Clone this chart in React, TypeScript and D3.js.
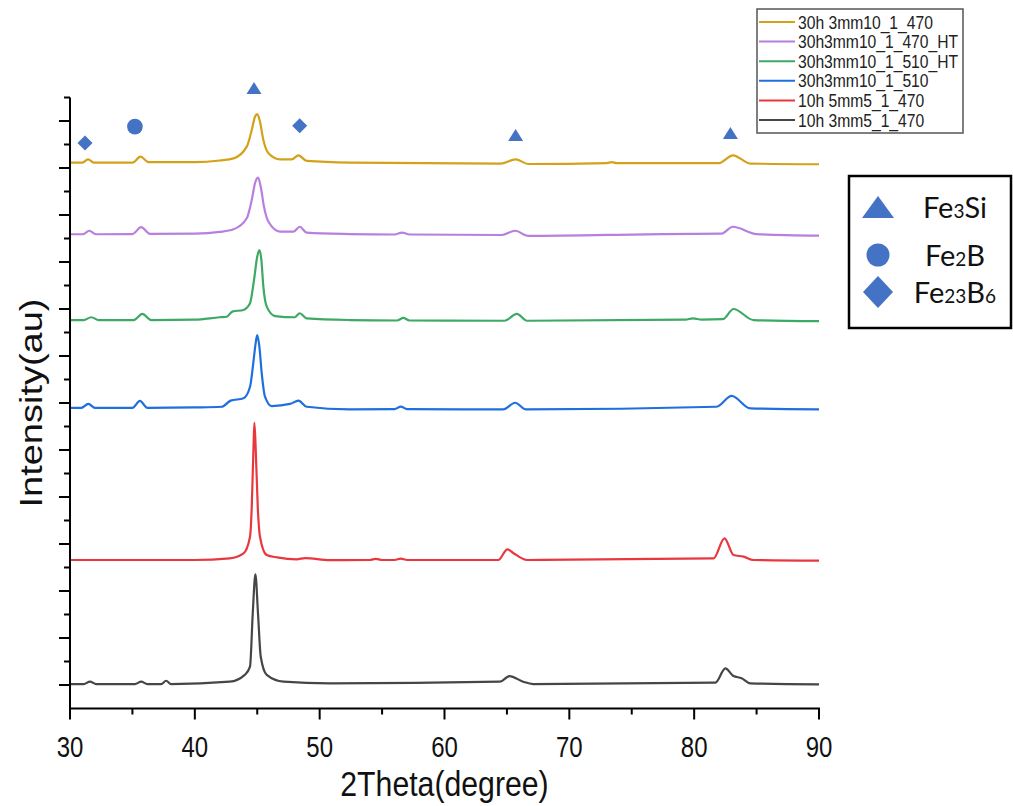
import { useEffect, useRef } from 'react';
import * as d3 from 'd3';

// sample names and colours, top of the stack first
const seriesNames = [
  '30h 3mm10_1_470',
  '30h3mm10_1_470_HT',
  '30h3mm10_1_510_HT',
  '30h3mm10_1_510',
  '10h 5mm5_1_470',
  '10h 3mm5_1_470',
];
const seriesColors = ['#D4A11B', '#B87FDF', '#3CA964', '#1F6FDE', '#E8383D', '#464646'];

// [2theta, intensity (offset, au)]
const xrd30h470 = [
  [30, 2223], [31.0, 2223], [31.45, 2237], [31.9, 2223], [35.0, 2223], [35.65, 2248], [36.3, 2225],
  [40, 2225], [42, 2232], [43.1, 2241], [44.16, 2291], [44.56, 2362], [44.82, 2418], [45.0, 2429],
  [45.22, 2397], [45.49, 2319], [45.9, 2263], [46.83, 2237], [47.76, 2237], [48.3, 2254], [48.96, 2230],
  [52.4, 2223], [64.5, 2219], [65.7, 2237], [66.7, 2217], [73.0, 2221], [73.4, 2225], [73.8, 2221],
  [82.0, 2221], [83.1, 2254], [84.5, 2219], [90, 2216],
];
const xrd30h470HT = [
  [30, 1918], [31.0, 1918], [31.55, 1933], [32.1, 1918], [35.0, 1919], [35.7, 1948], [36.4, 1920],
  [40, 1921], [42, 1928], [43.1, 1939], [44.16, 1986], [44.56, 2064], [44.82, 2135], [45.06, 2159],
  [45.28, 2120], [45.54, 2035], [45.9, 1971], [46.83, 1929], [47.9, 1929], [48.4, 1950], [48.96, 1925],
  [52.4, 1919], [56.0, 1917], [56.6, 1925], [57.2, 1917], [64.6, 1915], [65.66, 1933], [66.7, 1911],
  [77.5, 1919], [82.2, 1921], [83.1, 1950], [85, 1919], [90, 1912],
];
const xrd30h510HT = [
  [30, 1553], [31.1, 1553], [31.7, 1565], [32.3, 1553], [35.1, 1553], [35.8, 1579], [36.5, 1553],
  [40, 1555], [42, 1565], [42.55, 1567], [43.0, 1589], [43.9, 1596], [44.42, 1624], [44.74, 1723],
  [45.0, 1823], [45.17, 1851], [45.33, 1809], [45.49, 1695], [45.76, 1610], [46.43, 1570], [48.0, 1565],
  [48.4, 1582], [48.96, 1560], [52.4, 1553], [56.2, 1551], [56.7, 1562], [57.2, 1551], [64.8, 1550],
  [65.8, 1579], [66.6, 1550], [79.3, 1555], [79.9, 1560], [80.6, 1555], [82.3, 1557], [83.15, 1600],
  [84.75, 1553], [90, 1548],
];
const xrd30h510 = [
  [30, 1179], [30.9, 1179], [31.47, 1196], [32.0, 1179], [35.0, 1179], [35.6, 1209], [36.2, 1179],
  [40, 1181], [42.15, 1184], [42.87, 1210], [43.9, 1220], [44.42, 1269], [44.68, 1369], [44.87, 1454],
  [45.0, 1489], [45.17, 1440], [45.36, 1326], [45.62, 1227], [46.16, 1187], [47.63, 1196], [48.3, 1210],
  [48.96, 1184], [52.4, 1173], [56.0, 1174], [56.5, 1185], [57.0, 1174], [64.7, 1173], [65.66, 1201],
  [66.5, 1173], [81.8, 1184], [83.0, 1230], [84.5, 1177], [90, 1173],
];
const xrd10h5mm470 = [
  [30, 532], [40, 532], [42.8, 539], [43.9, 560], [44.42, 631], [44.56, 759], [44.7, 1014], [44.77, 1116],
  [44.87, 1014], [45.04, 759], [45.22, 631], [45.76, 553], [46.6, 543], [48.16, 535], [48.83, 540],
  [50.8, 531], [54.0, 532], [54.5, 537], [55.0, 532], [56.0, 532], [56.5, 538], [57.0, 532], [64.3, 532],
  [65.04, 577], [65.5, 562], [66.6, 532], [81.55, 539], [82.43, 624], [83.15, 553], [83.95, 546],
  [84.75, 532], [90, 529],
];
const xrd10h3mm470 = [
  [30, 4], [31.1, 4], [31.6, 14], [32.1, 4], [35.2, 4], [35.7, 14], [36.2, 4], [37.3, 4], [37.7, 18],
  [38.1, 4], [42.8, 14], [44.0, 43], [44.42, 78], [44.64, 305], [44.85, 471], [45.06, 305], [45.28, 120],
  [45.76, 43], [47.1, 14], [50.8, 7], [64.45, 14], [65.2, 38], [66.3, 14], [67.1, 4], [81.7, 10],
  [82.5, 71], [83.15, 38], [83.8, 29], [84.5, 7], [90, 3],
];
const allSeries = [xrd30h470, xrd30h470HT, xrd30h510HT, xrd30h510, xrd10h5mm470, xrd10h3mm470];

// phase markers above the peaks
const phaseMarks = [
  { shape: 'diamond', theta: 31.2, y: 2306 },
  { shape: 'circle', theta: 35.2, y: 2376 },
  { shape: 'triangle', theta: 44.74, y: 2540 },
  { shape: 'diamond', theta: 48.4, y: 2380 },
  { shape: 'triangle', theta: 65.7, y: 2340 },
  { shape: 'triangle', theta: 82.9, y: 2349 },
];
const phaseLegend = [
  { shape: 'triangle', base: 'Fe', sub: '3', tail: 'Si' },
  { shape: 'circle', base: 'Fe', sub: '2', tail: 'B' },
  { shape: 'diamond', base: 'Fe', sub: '23', tail: 'B', sub2: '6' },
];

const xTicks = [30, 40, 50, 60, 70, 80, 90];
const markerBlue = '#4472C4';
const sans = '"Liberation Sans", Arial, sans-serif';

export default function App() {
  const svgRef = useRef(null);

  useEffect(() => {
    const svg = d3.select(svgRef.current);
    svg.selectAll('*').remove();

    const x = d3.scaleLinear().domain([30, 90]).range([70, 819]);
    const y = d3.scaleLinear().domain([-100, 2500]).range([708.5, 97.5]);

    // traces
    const line = d3.line()
      .x(d => x(d[0]))
      .y(d => y(d[1]))
      .curve(d3.curveMonotoneX);

    allSeries.forEach((s, i) => {
      svg.append('path')
        .datum(s)
        .attr('d', line)
        .attr('fill', 'none')
        .attr('stroke', seriesColors[i])
        .attr('stroke-width', 2.2)
        .attr('stroke-linejoin', 'round');
    });

    // x axis
    const xAxis = svg.append('g');
    xAxis.append('line')
      .attr('x1', 70).attr('x2', 820)
      .attr('y1', y(-100)).attr('y2', y(-100))
      .attr('stroke', '#000').attr('stroke-width', 2);
    d3.range(30, 91, 5).forEach(v => {
      const major = v % 10 === 0;
      xAxis.append('line')
        .attr('x1', x(v)).attr('x2', x(v))
        .attr('y1', y(-100)).attr('y2', y(-100) + (major ? 11 : 6))
        .attr('stroke', '#000').attr('stroke-width', 2);
    });
    xTicks.forEach(v => {
      xAxis.append('text')
        .attr('transform', `translate(${x(v)},757) scale(0.8,1)`)
        .attr('text-anchor', 'middle')
        .style('font-family', sans)
        .style('font-size', '30px')
        .attr('fill', '#111')
        .text(v);
    });
    svg.append('text')
      .attr('transform', `translate(${x(60)},796) scale(0.84,1)`)
      .attr('text-anchor', 'middle')
      .style('font-family', sans)
      .style('font-size', '36px')
      .attr('fill', '#111')
      .text('2Theta(degree)');

    // y axis, no labels
    const yAxis = svg.append('g');
    yAxis.append('line')
      .attr('x1', 70).attr('x2', 70)
      .attr('y1', y(2500)).attr('y2', y(-100) + 1)
      .attr('stroke', '#000').attr('stroke-width', 2);
    d3.range(0, 2501, 100).forEach(v => {
      const major = v % 200 === 0;
      yAxis.append('line')
        .attr('x1', 70 - (major ? 11 : 6)).attr('x2', 70)
        .attr('y1', y(v)).attr('y2', y(v))
        .attr('stroke', '#000').attr('stroke-width', 2);
    });
    svg.append('text')
      .attr('transform', `translate(42,${y(1200)}) scale(0.82,1) rotate(-90)`)
      .attr('text-anchor', 'middle')
      .style('font-family', sans)
      .style('font-size', '38px')
      .attr('fill', '#111')
      .text('Intensity(au)');

    // marker shapes
    const drawMark = (g, shape, cx, cy, big) => {
      if (shape === 'circle') {
        g.append('circle').attr('cx', cx).attr('cy', cy)
          .attr('r', big ? 11.5 : 7.8).attr('fill', markerBlue);
      } else if (shape === 'triangle') {
        const w = big ? 32 : 15;
        const h = big ? 22 : 12;
        g.append('path')
          .attr('d', `M${cx},${cy - h / 2}L${cx + w / 2},${cy + h / 2}L${cx - w / 2},${cy + h / 2}Z`)
          .attr('fill', markerBlue);
      } else {
        const w = big ? 15 : 7.5;
        const h = big ? 16 : 7.5;
        g.append('path')
          .attr('d', `M${cx},${cy - h}L${cx + w},${cy}L${cx},${cy + h}L${cx - w},${cy}Z`)
          .attr('fill', markerBlue);
      }
    };

    const marks = svg.append('g');
    phaseMarks.forEach(m => drawMark(marks, m.shape, x(m.theta), y(m.y), false));

    // series legend
    const leg = svg.append('g');
    leg.append('rect')
      .attr('x', 757).attr('y', 9).attr('width', 206).attr('height', 124)
      .attr('fill', '#fff').attr('stroke', '#555').attr('stroke-width', 1.5);
    seriesNames.forEach((name, i) => {
      const cy = 22 + i * 19.6;
      leg.append('line')
        .attr('x1', 759).attr('x2', 795)
        .attr('y1', cy).attr('y2', cy)
        .attr('stroke', seriesColors[i]).attr('stroke-width', 2);
      leg.append('text')
        .attr('transform', `translate(798,${cy + 6.5}) scale(0.87,1)`)
        .style('font-family', sans)
        .style('font-size', '18px')
        .attr('fill', '#222')
        .text(name);
    });

    // phase legend
    const pl = svg.append('g');
    pl.append('rect')
      .attr('x', 849).attr('y', 176).attr('width', 162).attr('height', 152)
      .attr('fill', '#fff').attr('stroke', '#000').attr('stroke-width', 2.5);
    const rowsY = [207, 255, 292];
    phaseLegend.forEach((p, i) => {
      drawMark(pl, p.shape, 878, rowsY[i], true);
      const t = pl.append('text')
        .attr('x', 955).attr('y', rowsY[i] + 11)
        .attr('text-anchor', 'middle')
        .style('font-family', 'Lato, "Open Sans", sans-serif')
        .style('font-size', '29px')
        .attr('fill', '#111');
      t.append('tspan').text(p.base);
      t.append('tspan').style('font-size', '19px').text(p.sub);
      t.append('tspan').text(p.tail);
      if (p.sub2) t.append('tspan').style('font-size', '19px').text(p.sub2);
    });
  }, []);

  return (
    <svg
      ref={svgRef}
      width={1013}
      height={806}
      style={{ position: 'absolute', left: 0, top: 0, background: '#fff' }}
    />
  );
}
